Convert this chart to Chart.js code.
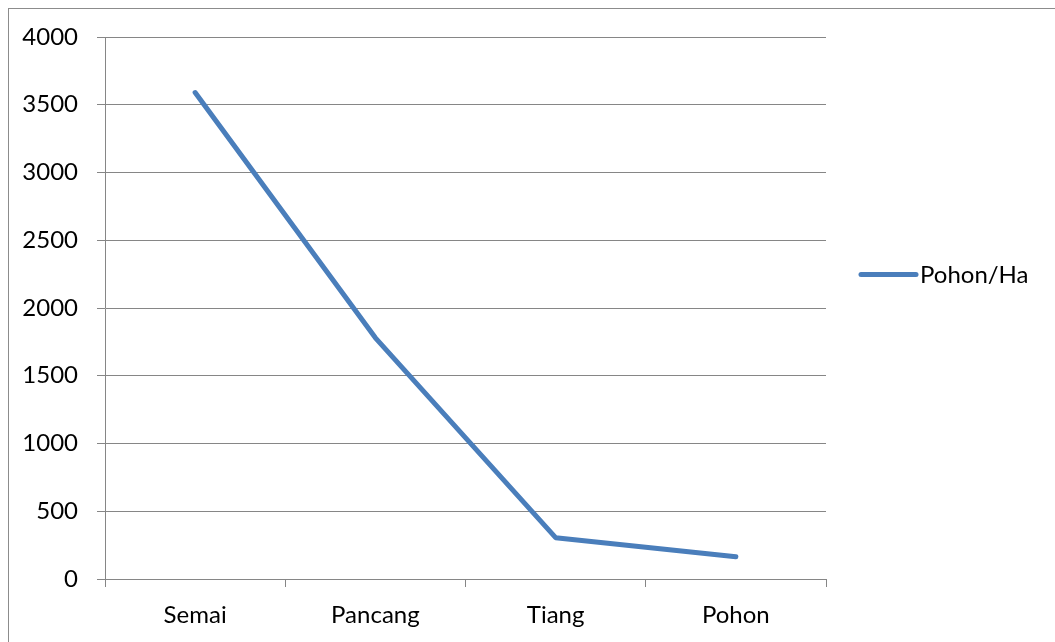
<!DOCTYPE html>
<html>
<head>
<meta charset="utf-8">
<script src="https://cdn.jsdelivr.net/npm/chart.js@4/dist/chart.umd.min.js"></script>
<style>
  html, body { margin: 0; padding: 0; background: #fff; }
  #wrap { position: relative; width: 1055px; height: 642px; }
</style>
</head>
<body>
<div id="wrap"><canvas id="c" width="1055" height="642"></canvas></div>
<script>
// Tree density per growth stage
const categories = ['Semai', 'Pancang', 'Tiang', 'Pohon'];
const seriesName = 'Pohon/Ha';
const pohonPerHa = [3590, 1780, 305, 164];
const yTicks = [0, 500, 1000, 1500, 2000, 2500, 3000, 3500, 4000];

const FONT = { family: 'Lato, "Liberation Sans", sans-serif', size: 24 };
const GRID = '#868686';
const LINE = '#4a7ebb';

// Outer frame and right-hand legend
const framePlugin = {
  id: 'frame',
  beforeDraw(chart) {
    const ctx = chart.ctx;
    ctx.save();
    ctx.fillStyle = '#fff';
    ctx.fillRect(0, 0, chart.width, chart.height);
    ctx.strokeStyle = '#8c8c8c';
    ctx.lineWidth = 1;
    ctx.strokeRect(8.5, 8.5, chart.width + 20, chart.height + 20);
    ctx.restore();
  },
  afterDraw(chart) {
    const ctx = chart.ctx;
    const ds = chart.data.datasets[0];
    const x0 = chart.chartArea.right + 35;
    const y = 274.5;
    ctx.save();
    ctx.strokeStyle = ds.borderColor;
    ctx.lineWidth = 5;
    ctx.lineCap = 'round';
    ctx.beginPath();
    ctx.moveTo(x0, y);
    ctx.lineTo(x0 + 55, y);
    ctx.stroke();
    ctx.fillStyle = '#000';
    ctx.font = FONT.size + 'px ' + FONT.family;
    ctx.textBaseline = 'middle';
    ctx.textAlign = 'left';
    ctx.fillText(ds.label, x0 + 59, y + 1);
    ctx.restore();
  }
};

new Chart(document.getElementById('c'), {
  type: 'line',
  data: {
    labels: categories,
    datasets: [{
      label: seriesName,
      data: pohonPerHa,
      borderColor: LINE,
      backgroundColor: LINE,
      borderWidth: 5,
      borderCapStyle: 'round',
      borderJoinStyle: 'round',
      pointRadius: 0,
      pointHoverRadius: 0,
      tension: 0,
      fill: false
    }]
  },
  options: {
    responsive: false,
    animation: false,
    events: [],
    layout: { padding: { top: 37, left: 0, right: 229, bottom: 0 } },
    plugins: { legend: { display: false }, tooltip: { enabled: false } },
    scales: {
      x: {
        type: 'category',
        offset: true,
        grid: {
          offset: true,
          drawOnChartArea: false,
          color: GRID,
          tickLength: 8,
          lineWidth: 1
        },
        border: { display: true, color: GRID, width: 1 },
        ticks: { color: '#000', font: FONT, padding: 14, maxRotation: 0 },
        afterFit(s) { s.height = 642 - 579; }
      },
      y: {
        min: 0,
        max: 4000,
        afterBuildTicks(s) { s.ticks = yTicks.map(v => ({ value: v })); },
        grid: { color: GRID, tickLength: 8, lineWidth: 1 },
        border: { display: true, color: GRID, width: 1 },
        ticks: {
          color: '#000',
          font: FONT,
          padding: 19,
          callback: (v) => String(v)
        },
        afterFit(s) { s.width = 105; }
      }
    }
  },
  plugins: [framePlugin]
});
</script>
</body>
</html>
